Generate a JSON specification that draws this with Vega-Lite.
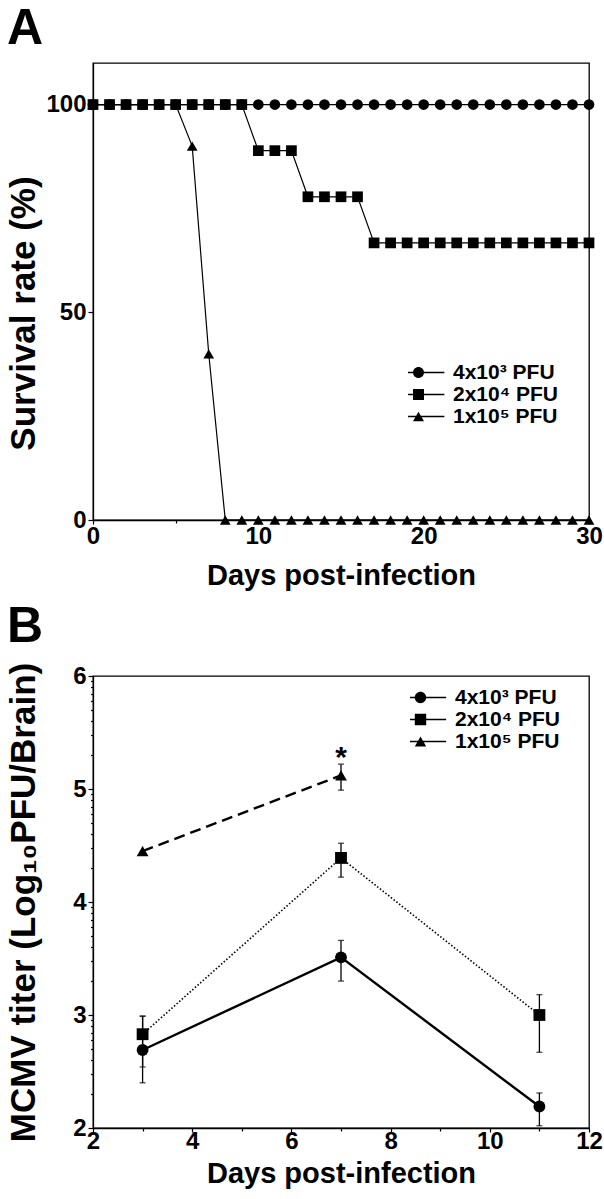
{
  "$schema": "https://vega.github.io/schema/vega-lite/v6.json",
  "background": "white",
  "padding": {"left": 5, "top": 2, "right": 0, "bottom": 0},
  "spacing": 10,
  "resolve": {"scale": {"shape": "independent"}, "legend": {"shape": "independent"}},
  "config": {
    "font": "Liberation Sans",
    "view": {"stroke": "black", "strokeWidth": 1.3},
    "axis": {"domainColor": "black", "domainWidth": 1.3, "tickColor": "black", "tickWidth": 1.2, "labelColor": "black", "titleColor": "black", "labelFont": "Liberation Sans", "titleFont": "Liberation Sans", "labelFontWeight": "bold", "titleFontWeight": "bold", "labelFontSize": 24, "grid": false, "labelFlush": false, "labelOverlap": false, "labelBound": false},
    "title": {"font": "Liberation Sans", "fontWeight": "bold", "fontSize": 50, "color": "black", "anchor": "start", "frame": "group"},
    "legend": {"labelFont": "Liberation Sans", "labelFontWeight": "bold", "labelColor": "black", "padding": 0, "symbolStrokeColor": "black", "symbolStrokeWidth": 0.5, "symbolFillColor": "black", "symbolOpacity": 1}
  },
  "vconcat": [
    {
      "title": {"text": "A", "dx": -86, "offset": 9.5, "baseline": "top"},
      "width": 496,
      "height": 457,
      "data": {"values": [
        {"dose": "4x10³ PFU", "day": 0, "s": 100}, {"dose": "4x10³ PFU", "day": 1, "s": 100}, {"dose": "4x10³ PFU", "day": 2, "s": 100}, {"dose": "4x10³ PFU", "day": 3, "s": 100}, {"dose": "4x10³ PFU", "day": 4, "s": 100}, {"dose": "4x10³ PFU", "day": 5, "s": 100}, {"dose": "4x10³ PFU", "day": 6, "s": 100}, {"dose": "4x10³ PFU", "day": 7, "s": 100}, {"dose": "4x10³ PFU", "day": 8, "s": 100}, {"dose": "4x10³ PFU", "day": 9, "s": 100}, {"dose": "4x10³ PFU", "day": 10, "s": 100}, {"dose": "4x10³ PFU", "day": 11, "s": 100}, {"dose": "4x10³ PFU", "day": 12, "s": 100}, {"dose": "4x10³ PFU", "day": 13, "s": 100}, {"dose": "4x10³ PFU", "day": 14, "s": 100}, {"dose": "4x10³ PFU", "day": 15, "s": 100}, {"dose": "4x10³ PFU", "day": 16, "s": 100}, {"dose": "4x10³ PFU", "day": 17, "s": 100}, {"dose": "4x10³ PFU", "day": 18, "s": 100}, {"dose": "4x10³ PFU", "day": 19, "s": 100}, {"dose": "4x10³ PFU", "day": 20, "s": 100}, {"dose": "4x10³ PFU", "day": 21, "s": 100}, {"dose": "4x10³ PFU", "day": 22, "s": 100}, {"dose": "4x10³ PFU", "day": 23, "s": 100}, {"dose": "4x10³ PFU", "day": 24, "s": 100}, {"dose": "4x10³ PFU", "day": 25, "s": 100}, {"dose": "4x10³ PFU", "day": 26, "s": 100}, {"dose": "4x10³ PFU", "day": 27, "s": 100}, {"dose": "4x10³ PFU", "day": 28, "s": 100}, {"dose": "4x10³ PFU", "day": 29, "s": 100}, {"dose": "4x10³ PFU", "day": 30, "s": 100},
        {"dose": "1x10⁵ PFU", "day": 0, "s": 100}, {"dose": "1x10⁵ PFU", "day": 1, "s": 100}, {"dose": "1x10⁵ PFU", "day": 2, "s": 100}, {"dose": "1x10⁵ PFU", "day": 3, "s": 100}, {"dose": "1x10⁵ PFU", "day": 4, "s": 100}, {"dose": "1x10⁵ PFU", "day": 5, "s": 100}, {"dose": "1x10⁵ PFU", "day": 6, "s": 90}, {"dose": "1x10⁵ PFU", "day": 7, "s": 40}, {"dose": "1x10⁵ PFU", "day": 8, "s": 0}, {"dose": "1x10⁵ PFU", "day": 9, "s": 0}, {"dose": "1x10⁵ PFU", "day": 10, "s": 0}, {"dose": "1x10⁵ PFU", "day": 11, "s": 0}, {"dose": "1x10⁵ PFU", "day": 12, "s": 0}, {"dose": "1x10⁵ PFU", "day": 13, "s": 0}, {"dose": "1x10⁵ PFU", "day": 14, "s": 0}, {"dose": "1x10⁵ PFU", "day": 15, "s": 0}, {"dose": "1x10⁵ PFU", "day": 16, "s": 0}, {"dose": "1x10⁵ PFU", "day": 17, "s": 0}, {"dose": "1x10⁵ PFU", "day": 18, "s": 0}, {"dose": "1x10⁵ PFU", "day": 19, "s": 0}, {"dose": "1x10⁵ PFU", "day": 20, "s": 0}, {"dose": "1x10⁵ PFU", "day": 21, "s": 0}, {"dose": "1x10⁵ PFU", "day": 22, "s": 0}, {"dose": "1x10⁵ PFU", "day": 23, "s": 0}, {"dose": "1x10⁵ PFU", "day": 24, "s": 0}, {"dose": "1x10⁵ PFU", "day": 25, "s": 0}, {"dose": "1x10⁵ PFU", "day": 26, "s": 0}, {"dose": "1x10⁵ PFU", "day": 27, "s": 0}, {"dose": "1x10⁵ PFU", "day": 28, "s": 0}, {"dose": "1x10⁵ PFU", "day": 29, "s": 0}, {"dose": "1x10⁵ PFU", "day": 30, "s": 0},
        {"dose": "2x10⁴ PFU", "day": 0, "s": 100}, {"dose": "2x10⁴ PFU", "day": 1, "s": 100}, {"dose": "2x10⁴ PFU", "day": 2, "s": 100}, {"dose": "2x10⁴ PFU", "day": 3, "s": 100}, {"dose": "2x10⁴ PFU", "day": 4, "s": 100}, {"dose": "2x10⁴ PFU", "day": 5, "s": 100}, {"dose": "2x10⁴ PFU", "day": 6, "s": 100}, {"dose": "2x10⁴ PFU", "day": 7, "s": 100}, {"dose": "2x10⁴ PFU", "day": 8, "s": 100}, {"dose": "2x10⁴ PFU", "day": 9, "s": 100}, {"dose": "2x10⁴ PFU", "day": 10, "s": 88.9}, {"dose": "2x10⁴ PFU", "day": 11, "s": 88.9}, {"dose": "2x10⁴ PFU", "day": 12, "s": 88.9}, {"dose": "2x10⁴ PFU", "day": 13, "s": 77.8}, {"dose": "2x10⁴ PFU", "day": 14, "s": 77.8}, {"dose": "2x10⁴ PFU", "day": 15, "s": 77.8}, {"dose": "2x10⁴ PFU", "day": 16, "s": 77.8}, {"dose": "2x10⁴ PFU", "day": 17, "s": 66.7}, {"dose": "2x10⁴ PFU", "day": 18, "s": 66.7}, {"dose": "2x10⁴ PFU", "day": 19, "s": 66.7}, {"dose": "2x10⁴ PFU", "day": 20, "s": 66.7}, {"dose": "2x10⁴ PFU", "day": 21, "s": 66.7}, {"dose": "2x10⁴ PFU", "day": 22, "s": 66.7}, {"dose": "2x10⁴ PFU", "day": 23, "s": 66.7}, {"dose": "2x10⁴ PFU", "day": 24, "s": 66.7}, {"dose": "2x10⁴ PFU", "day": 25, "s": 66.7}, {"dose": "2x10⁴ PFU", "day": 26, "s": 66.7}, {"dose": "2x10⁴ PFU", "day": 27, "s": 66.7}, {"dose": "2x10⁴ PFU", "day": 28, "s": 66.7}, {"dose": "2x10⁴ PFU", "day": 29, "s": 66.7}, {"dose": "2x10⁴ PFU", "day": 30, "s": 66.7}
      ]},
      "resolve": {"scale": {"shape": "independent"}, "legend": {"shape": "independent"}},
      "layer": [
        {
          "mark": {"type": "line", "color": "black", "strokeWidth": 1.2},
          "encoding": {
            "x": {"field": "day", "type": "quantitative", "scale": {"domain": [0, 30], "nice": false},
              "axis": {"title": "Days post-infection", "titleFontSize": 29, "titleY": 64, "titleBaseline": "alphabetic", "values": [0, 5, 10, 15, 20, 25, 30], "labelExpr": "datum.value % 10 === 0 ? datum.label : ''", "tickSize": {"condition": {"test": "datum.value % 10 !== 0", "value": 3}, "value": 4}, "labelPadding": 0, "labelOverlap": false}},
            "y": {"field": "s", "type": "quantitative", "scale": {"domain": [0, 110], "nice": false},
              "axis": {"title": "Survival rate (%)", "titleFontSize": 35, "titleAngle": -90, "titleX": -87, "titleY": 250, "titleBaseline": "top", "titleAlign": "center", "values": [0, 50, 100], "tickSize": 5, "labelPadding": 2, "labelOverlap": false}},
            "detail": {"field": "dose", "type": "nominal"}
          }
        },
        {
          "mark": {"type": "point", "filled": true, "color": "black", "size": 115, "opacity": 1},
          "encoding": {
            "x": {"field": "day", "type": "quantitative"},
            "y": {"field": "s", "type": "quantitative"},
            "shape": {"field": "dose", "type": "nominal",
              "scale": {"domain": ["4x10³ PFU", "2x10⁴ PFU", "1x10⁵ PFU"], "range": ["circle", "square", "triangle-up"]},
              "legend": null}
          }
        },
        {
          "transform": [{"filter": "datum.day < 0"}],
          "mark": {"type": "point", "filled": true, "color": "black", "opacity": 1},
          "encoding": {
            "x": {"field": "day", "type": "quantitative"},
            "y": {"field": "s", "type": "quantitative"},
            "shape": {"field": "dose", "type": "nominal",
              "scale": {"domain": ["4x10³ PFU", "2x10⁴ PFU", "1x10⁵ PFU"], "range": [
                "M-4.7,-0.12H4.7V0.12H-4.7ZM-1,0A1,1,0,1,1,1,0A1,1,0,1,1,-1,0Z",
                "M-4.7,-0.12H4.7V0.12H-4.7ZM-1,-1H1V1H-1Z",
                "M-4.7,-0.12H4.7V0.12H-4.7ZM0,-0.866L1,0.866L-1,0.866Z"]},
              "legend": {"title": null, "orient": "none", "legendX": 315, "legendY": 299, "symbolSize": 121, "labelFontSize": 21, "labelOffset": 24, "rowPadding": 0, "clipHeight": 21}}
          }
        }
      ]
    },
    {
      "title": {"text": "B", "dx": -86, "offset": 10.5, "baseline": "top"},
      "width": 496,
      "height": 452,
      "data": {"values": [
        {"dose": "4x10³ PFU", "day": 3, "t": 2.69, "lo": 2.4, "hi": 2.99, "sig": ""},
        {"dose": "4x10³ PFU", "day": 7, "t": 3.51, "lo": 3.3, "hi": 3.66, "sig": ""},
        {"dose": "4x10³ PFU", "day": 11, "t": 2.19, "lo": 2.02, "hi": 2.31, "sig": ""},
        {"dose": "2x10⁴ PFU", "day": 3, "t": 2.83, "lo": 2.54, "hi": 2.99, "sig": ""},
        {"dose": "2x10⁴ PFU", "day": 7, "t": 4.39, "lo": 4.22, "hi": 4.52, "sig": ""},
        {"dose": "2x10⁴ PFU", "day": 11, "t": 3.0, "lo": 2.67, "hi": 3.18, "sig": ""},
        {"dose": "1x10⁵ PFU", "day": 3, "t": 4.45, "lo": null, "hi": null, "sig": ""},
        {"dose": "1x10⁵ PFU", "day": 7, "t": 5.12, "lo": 4.99, "hi": 5.22, "sig": "*"}
      ]},
      "resolve": {"axis": {"y": "independent"}, "scale": {"shape": "independent"}, "legend": {"shape": "independent"}},
      "layer": [
        {
          "transform": [{"filter": "datum.dose === '4x10³ PFU'"}],
          "mark": {"type": "line", "color": "black", "strokeWidth": 2.4},
          "encoding": {
            "x": {"field": "day", "type": "quantitative", "scale": {"domain": [2, 12], "nice": false},
              "axis": {"title": "Days post-infection", "titleFontSize": 29, "titleY": 54, "titleBaseline": "alphabetic", "values": [2, 3, 4, 5, 6, 7, 8, 9, 10, 11, 12], "labelExpr": "datum.value % 2 === 0 ? datum.label : ''", "tickSize": {"condition": {"test": "datum.value % 2 !== 0", "value": 3}, "value": 4}, "labelPadding": -3, "labelOverlap": false}},
            "y": {"field": "t", "type": "quantitative", "title": "MCMV titer (Log₁₀PFU/Brain)", "scale": {"domain": [2, 6], "nice": false, "zero": false},
              "axis": {"orient": "left", "title": "MCMV titer (Log₁₀PFU/Brain)", "titleFontSize": 35, "titleAngle": -90, "titleX": -87, "titleBaseline": "top", "titleAlign": "center", "format": "d", "labelOverlap": false,
                "values": [2, 3, 4, 5, 6], "tickSize": 5, "labelPadding": 2}}
          }
        },
        {
          "transform": [{"filter": "datum.dose === '2x10⁴ PFU'"}],
          "mark": {"type": "line", "color": "black", "strokeWidth": 1.6, "strokeDash": [1.5, 2]},
          "encoding": {
            "x": {"field": "day", "type": "quantitative"},
            "y": {"field": "t", "type": "quantitative", "title": "MCMV titer (Log₁₀PFU/Brain)",
              "axis": {"orient": "left", "title": null, "labels": false, "domain": false, "grid": false, "tickSize": 2.5,
                "values": [2.30103, 2.47712, 2.60206, 2.69897, 2.77815, 2.8451, 2.90309, 2.95424, 3.30103, 3.47712, 3.60206, 3.69897, 3.77815, 3.8451, 3.90309, 3.95424, 4.30103, 4.47712, 4.60206, 4.69897, 4.77815, 4.8451, 4.90309, 4.95424, 5.30103, 5.47712, 5.60206, 5.69897, 5.77815, 5.8451, 5.90309, 5.95424]}}
          }
        },
        {
          "transform": [{"filter": "datum.dose === '1x10⁵ PFU'"}],
          "mark": {"type": "line", "color": "black", "strokeWidth": 2.4, "strokeDash": [11, 6]},
          "encoding": {
            "x": {"field": "day", "type": "quantitative"},
            "y": {"field": "t", "type": "quantitative", "axis": null}
          }
        },
        {
          "transform": [{"filter": "datum.lo != null"}],
          "mark": {"type": "errorbar", "color": "black", "thickness": 1.3, "ticks": {"size": 6, "thickness": 1.3, "color": "black"}},
          "encoding": {
            "x": {"field": "day", "type": "quantitative"},
            "y": {"field": "lo", "type": "quantitative", "axis": null},
            "y2": {"field": "hi"}
          }
        },
        {
          "mark": {"type": "point", "filled": true, "color": "black", "size": 140, "opacity": 1},
          "encoding": {
            "x": {"field": "day", "type": "quantitative"},
            "y": {"field": "t", "type": "quantitative", "axis": null},
            "shape": {"field": "dose", "type": "nominal",
              "scale": {"domain": ["4x10³ PFU", "2x10⁴ PFU", "1x10⁵ PFU"], "range": ["circle", "square", "triangle-up"]},
              "legend": null}
          }
        },
        {
          "transform": [{"filter": "datum.day < 0"}],
          "mark": {"type": "point", "filled": true, "color": "black", "opacity": 1},
          "encoding": {
            "x": {"field": "day", "type": "quantitative"},
            "y": {"field": "t", "type": "quantitative", "axis": null},
            "shape": {"field": "dose", "type": "nominal",
              "scale": {"domain": ["4x10³ PFU", "2x10⁴ PFU", "1x10⁵ PFU"], "range": [
                "M-4.5,-0.115H4.5V0.115H-4.5ZM-1,0A1,1,0,1,1,1,0A1,1,0,1,1,-1,0Z",
                "M-4.5,-0.115H4.5V0.115H-4.5ZM-1,-1H1V1H-1Z",
                "M-4.5,-0.115H4.5V0.115H-4.5ZM0,-0.866L1,0.866L-1,0.866Z"]},
              "legend": {"title": null, "orient": "none", "legendX": 317, "legendY": 11, "symbolSize": 130, "labelFontSize": 21, "labelOffset": 24, "rowPadding": 0, "clipHeight": 21}}
          }
        },
        {
          "transform": [{"filter": "datum.sig != ''"}],
          "mark": {"type": "text", "font": "Liberation Sans", "fontWeight": "bold", "fontSize": 30, "baseline": "alphabetic", "align": "center", "dy": 3, "color": "black"},
          "encoding": {
            "x": {"field": "day", "type": "quantitative"},
            "y": {"field": "hi", "type": "quantitative", "axis": null},
            "text": {"field": "sig"}
          }
        }
      ]
    }
  ]
}
